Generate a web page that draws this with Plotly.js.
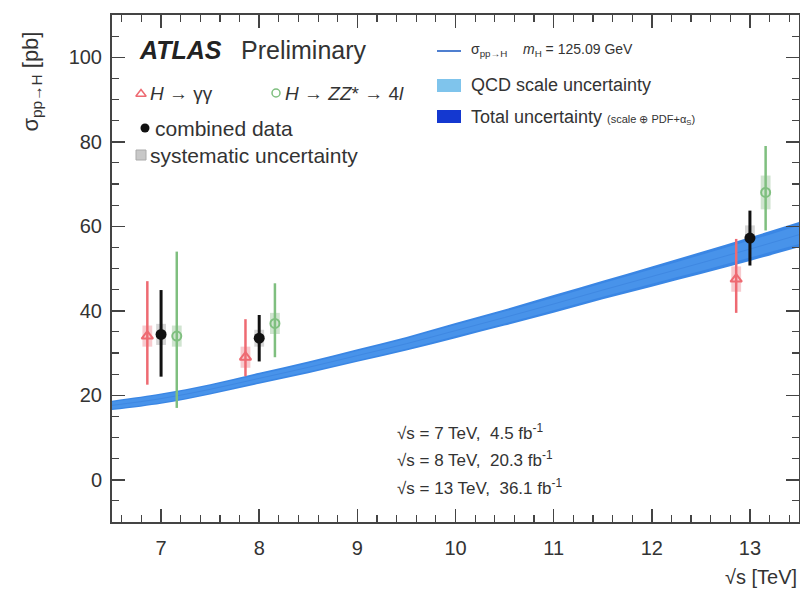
<!DOCTYPE html>
<html>
<head>
<meta charset="utf-8">
<script src="https://cdn.plot.ly/plotly-3.0.1.min.js"></script>
<style>html,body{margin:0;padding:0;background:#fff;}#chart{width:800px;height:593px;}</style>
</head>
<body>
<div id="chart"></div>
<script>
// ---- Data ----
var sqrtS = [7, 8, 13];
// H -> gamma gamma
var ggVal = [34, 29, 47.5];
var ggUp = [13, 9, 9.5];
var ggDn = [11.5, 4.5, 8];
var ggSyst = [2.5, 2.5, 3];
// H -> ZZ* -> 4l
var zzVal = [34, 37, 68];
var zzUp = [20, 9.5, 11];
var zzDn = [17, 8, 9];
var zzSyst = [2.5, 2.5, 4];
// combined
var combVal = [34.4, 33.5, 57.2];
var combUp = [10.5, 5.5, 6.5];
var combDn = [10, 5.5, 6.5];
var combSyst = [2.5, 2, 3];
// theory prediction sigma(pp->H), mH = 125.09 GeV
var thX = [6.5, 7, 7.5, 8, 8.5, 9, 9.5, 10, 10.5, 11, 11.5, 12, 12.5, 13, 13.5];
var thY = [17.6, 19.2, 21.4, 24.0, 26.6, 29.4, 32.2, 35.3, 38.4, 41.6, 44.9, 48.1, 51.3, 54.6, 58.0];
var totLo = [16.5, 18.0, 20.2, 22.7, 25.2, 27.9, 30.6, 33.5, 36.5, 39.5, 42.7, 45.7, 48.7, 51.8, 55.0];
var totHi = [18.7, 20.4, 22.6, 25.3, 28.0, 30.9, 33.8, 37.1, 40.3, 43.7, 47.1, 50.5, 53.9, 57.4, 61.0];
var scLo = [16.8, 18.3, 20.5, 23.1, 25.6, 28.3, 31.0, 34.0, 37.0, 40.1, 43.3, 46.4, 49.4, 52.6, 55.8];
var scHi = [18.4, 20.1, 22.3, 24.9, 27.6, 30.5, 33.4, 36.6, 39.8, 43.1, 46.5, 49.8, 53.2, 56.6, 60.2];
var xTicks = [7, 8, 9, 10, 11, 12, 13];
var yTicks = [0, 20, 40, 60, 80, 100];

// ---- styling ----
var FONT = 'Liberation Sans, Arial, Helvetica, sans-serif';
var RED = '#ee6a72', GREEN = '#7fbf7f', BLACK = '#111';
var ggOff = -0.14, zzOff = 0.16, boxW = 0.1;
function shift(arr, d) { return arr.map(function (v) { return v + d; }); }
function twice(arr) { return arr.map(function (v) { return 2 * v; }); }
function minus(a, b) { return a.map(function (v, i) { return v - b[i]; }); }

var traces = [];
// total uncertainty band
traces.push({x: thX, y: totLo, mode: 'lines', line: {width: 0, shape: 'spline', color: '#3a86e4'}, hoverinfo: 'skip'});
traces.push({x: thX, y: totHi, mode: 'lines', line: {width: 0, shape: 'spline', color: '#3a86e4'}, fill: 'tonexty', fillcolor: '#3a86e4', hoverinfo: 'skip'});
// QCD scale band
traces.push({x: thX, y: scLo, mode: 'lines', line: {width: 0, shape: 'spline'}, hoverinfo: 'skip'});
traces.push({x: thX, y: scHi, mode: 'lines', line: {width: 0, shape: 'spline'}, fill: 'tonexty', fillcolor: '#4893ea', hoverinfo: 'skip'});
traces.push({x: thX, y: thY, mode: 'lines', line: {width: 1, shape: 'spline', color: '#3f88e2'}, hoverinfo: 'skip'});

// systematic boxes
function boxTrace(xs, vals, syst, col) {
  return {type: 'bar', x: xs, y: twice(syst), base: minus(vals, syst), width: boxW,
          marker: {color: col, line: {width: 0}}, hoverinfo: 'skip'};
}
traces.push(boxTrace(shift(sqrtS, ggOff), ggVal, ggSyst, 'rgba(240,160,168,0.55)'));
traces.push(boxTrace(shift(sqrtS, zzOff), zzVal, zzSyst, 'rgba(170,205,170,0.55)'));
traces.push(boxTrace(sqrtS, combVal, combSyst, 'rgba(180,180,180,0.55)'));

// measurements
traces.push({x: shift(sqrtS, ggOff), y: ggVal, mode: 'markers',
  error_y: {type: 'data', symmetric: false, array: ggUp, arrayminus: ggDn, color: RED, thickness: 2.5, width: 0},
  marker: {symbol: 'triangle-up-open', size: 10, color: RED, line: {width: 2, color: RED}}});
traces.push({x: shift(sqrtS, zzOff), y: zzVal, mode: 'markers',
  error_y: {type: 'data', symmetric: false, array: zzUp, arrayminus: zzDn, color: GREEN, thickness: 2.5, width: 0},
  marker: {symbol: 'circle-open', size: 9, color: GREEN, line: {width: 2, color: GREEN}}});
traces.push({x: sqrtS, y: combVal, mode: 'markers',
  error_y: {type: 'data', symmetric: false, array: combUp, arrayminus: combDn, color: BLACK, thickness: 3, width: 0},
  marker: {symbol: 'circle', size: 11, color: BLACK}});

// legend markers (on a pixel overlay axis)
traces.push({x: [141], y: [94], xaxis: 'x2', yaxis: 'y2', mode: 'markers',
  marker: {symbol: 'triangle-up-open', size: 9, color: RED, line: {width: 1.5, color: RED}}});
traces.push({x: [276], y: [93], xaxis: 'x2', yaxis: 'y2', mode: 'markers',
  marker: {symbol: 'circle-open', size: 8, color: GREEN, line: {width: 1.5, color: GREEN}}});
traces.push({x: [145], y: [128], xaxis: 'x2', yaxis: 'y2', mode: 'markers',
  marker: {symbol: 'circle', size: 9, color: BLACK}});

var axisCommon = {
  showgrid: false, zeroline: false, showline: true, linecolor: '#444', linewidth: 2,
  mirror: 'ticks', ticks: 'inside', ticklen: 13, tickwidth: 1.5, tickcolor: '#444',
  tickfont: {family: FONT, size: 20, color: '#333'}
};
var layout = {
  width: 800, height: 593,
  margin: {l: 112, r: 1, t: 15, b: 71},
  paper_bgcolor: '#fff', plot_bgcolor: '#fff',
  showlegend: false, barmode: 'overlay',
  xaxis: Object.assign({}, axisCommon, {range: [6.5, 13.5], tickmode: 'array', tickvals: xTicks,
    ticktext: xTicks.map(String), ticklabelstandoff: 7,
    minor: {dtick: 0.2, tick0: 0, ticks: 'inside', ticklen: 7, tickwidth: 1.2, tickcolor: '#444'}}),
  yaxis: Object.assign({}, axisCommon, {range: [-10, 110], tickmode: 'array', tickvals: yTicks,
    ticktext: yTicks.map(String), ticklabelstandoff: 4,
    minor: {dtick: 5, tick0: 0, ticks: 'inside', ticklen: 7, tickwidth: 1.2, tickcolor: '#444'}}),
  xaxis2: {overlaying: 'x', range: [112, 799], visible: false, fixedrange: true},
  yaxis2: {overlaying: 'y', range: [522, 15], visible: false, fixedrange: true},
  shapes: [
    {type: 'line', xref: 'x2', yref: 'y2', x0: 437, x1: 461, y0: 51, y1: 51, line: {color: '#4f7fd0', width: 2}},
    {type: 'rect', xref: 'x2', yref: 'y2', x0: 437, x1: 461, y0: 79, y1: 92, fillcolor: '#7fc4ec', line: {width: 0}},
    {type: 'rect', xref: 'x2', yref: 'y2', x0: 437, x1: 461, y0: 110, y1: 123, fillcolor: '#1438d0', line: {width: 0}},
    {type: 'rect', xref: 'x2', yref: 'y2', x0: 136, x1: 146, y0: 150, y1: 160, fillcolor: '#c8c8c8', line: {color: '#aaa', width: 1}}
  ],
  annotations: [
    {xref: 'x2', yref: 'y2', x: 137, y: 50, xanchor: 'left', yanchor: 'middle', showarrow: false,
     text: '<b><i>ATLAS</i></b>', font: {family: FONT, size: 25, color: '#222'}},
    {xref: 'x2', yref: 'y2', x: 239, y: 50, xanchor: 'left', yanchor: 'middle', showarrow: false,
     text: 'Preliminary', font: {family: FONT, size: 25, color: '#333'}},
    {xref: 'x2', yref: 'y2', x: 148, y: 93, xanchor: 'left', yanchor: 'middle', showarrow: false,
     text: '<i>H</i> → γγ', font: {family: FONT, size: 19, color: '#333'}},
    {xref: 'x2', yref: 'y2', x: 283, y: 93, xanchor: 'left', yanchor: 'middle', showarrow: false,
     text: '<i>H</i> → <i>ZZ</i>* → 4<i>l</i>', font: {family: FONT, size: 19, color: '#333'}},
    {xref: 'x2', yref: 'y2', x: 153, y: 128, xanchor: 'left', yanchor: 'middle', showarrow: false,
     text: 'combined data', font: {family: FONT, size: 21, color: '#333'}},
    {xref: 'x2', yref: 'y2', x: 148, y: 155, xanchor: 'left', yanchor: 'middle', showarrow: false,
     text: 'systematic uncertainty', font: {family: FONT, size: 21, color: '#333'}},
    {xref: 'x2', yref: 'y2', x: 469, y: 50, xanchor: 'left', yanchor: 'middle', showarrow: false,
     text: 'σ<sub>pp→H</sub>    <i>m</i><sub>H</sub> = 125.09 GeV', font: {family: FONT, size: 14, color: '#333'}},
    {xref: 'x2', yref: 'y2', x: 469, y: 85, xanchor: 'left', yanchor: 'middle', showarrow: false,
     text: 'QCD scale uncertainty', font: {family: FONT, size: 18, color: '#333'}},
    {xref: 'x2', yref: 'y2', x: 469, y: 117, xanchor: 'left', yanchor: 'middle', showarrow: false,
     text: 'Total uncertainty <span style="font-size:11px">(scale ⊕ PDF+α<sub>S</sub>)</span>', font: {family: FONT, size: 18, color: '#333'}},
    {xref: 'x2', yref: 'y2', x: 395, y: 432, xanchor: 'left', yanchor: 'middle', showarrow: false,
     text: '√s = 7 TeV,  4.5 fb<sup>-1</sup>', font: {family: FONT, size: 17, color: '#333'}},
    {xref: 'x2', yref: 'y2', x: 395, y: 459, xanchor: 'left', yanchor: 'middle', showarrow: false,
     text: '√s = 8 TeV,  20.3 fb<sup>-1</sup>', font: {family: FONT, size: 17, color: '#333'}},
    {xref: 'x2', yref: 'y2', x: 395, y: 487, xanchor: 'left', yanchor: 'middle', showarrow: false,
     text: '√s = 13 TeV,  36.1 fb<sup>-1</sup>', font: {family: FONT, size: 17, color: '#333'}},
    {xref: 'paper', yref: 'paper', x: 1.0, y: -0.108, xanchor: 'right', yanchor: 'middle', showarrow: false,
     text: '√s [TeV]', font: {family: FONT, size: 20, color: '#333'}},
    {xref: 'paper', yref: 'paper', x: -0.117, y: 0.868, xanchor: 'center', yanchor: 'middle', showarrow: false,
     textangle: -90, text: 'σ<sub>pp→H</sub> [pb]', font: {family: FONT, size: 22, color: '#333'}}
  ]
};
Plotly.newPlot('chart', traces, layout, {staticPlot: true, displayModeBar: false});
</script>
</body>
</html>
